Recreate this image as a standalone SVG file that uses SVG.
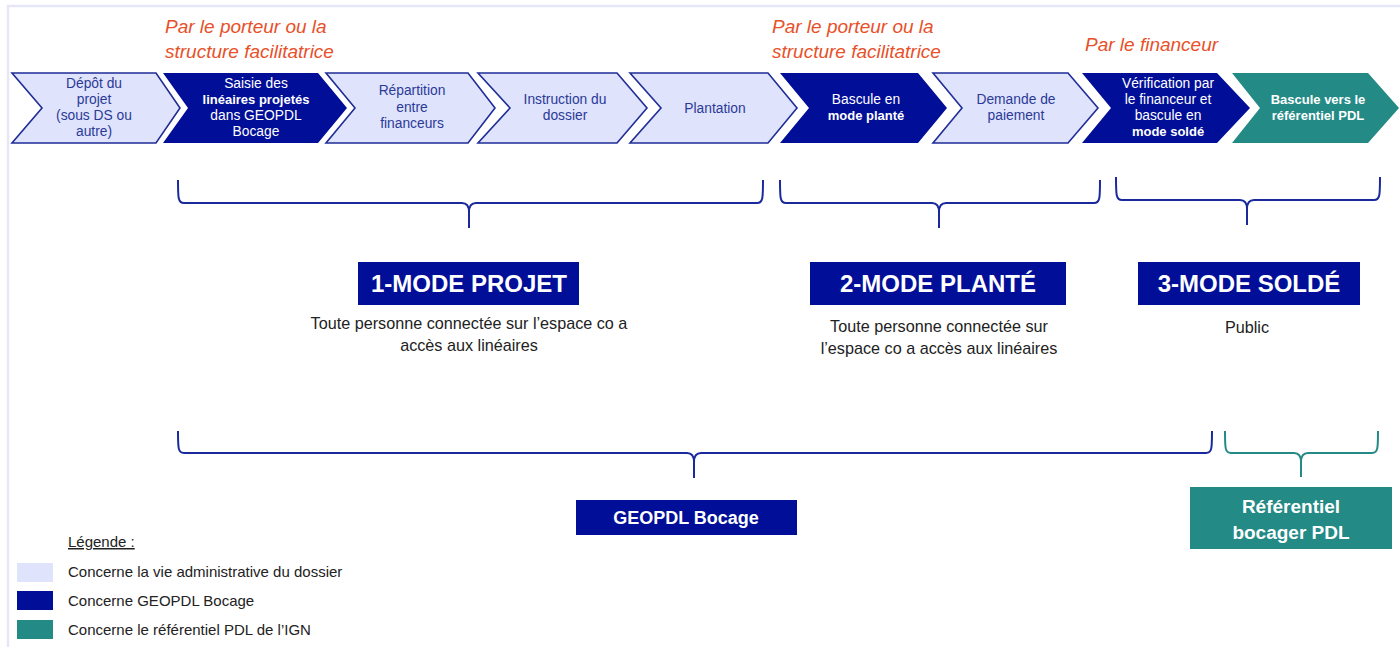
<svg xmlns="http://www.w3.org/2000/svg" width="1400" height="647" viewBox="0 0 1400 647">
<style>
text{font-family:"Liberation Sans",Arial,sans-serif}
.lt{fill:#dfe3fb;stroke:#1f2d96;stroke-width:1.6}
.dk{fill:#000e98}
.tl{fill:#238a86}
.ct{font-size:13.8px;fill:#2b3a98;text-anchor:middle}
.cw{font-size:13.8px;fill:#fff;text-anchor:middle}
.b{font-weight:bold;font-size:13px}
.or{font-size:19px;font-style:italic;fill:#e8502a}
.br{fill:none;stroke:#1a2a9c;stroke-width:2}
.brt{fill:none;stroke:#238a86;stroke-width:2}
.mode{font-size:24px;font-weight:bold;fill:#fff;text-anchor:middle}
.sub{font-size:16.2px;fill:#222;text-anchor:middle}
.lg{font-size:15px;fill:#222}
</style>
<g id="frame"><path d="M8,647 V6 H1400" fill="none" stroke="#e6e6fb" stroke-width="2.5"/></g>

<g id="actors">
<text class="or" x="165" y="33">Par le porteur ou la</text>
<text class="or" x="165" y="58">structure facilitatrice</text>
<text class="or" x="772" y="33">Par le porteur ou la</text>
<text class="or" x="772" y="58">structure facilitatrice</text>
<text class="or" x="1085" y="51">Par le financeur</text>
</g>

<g id="step1"><polygon class="lt" points="12,73 156,73 180,108 156,143 12,143 42,108"/>
<text class="ct"><tspan x="94" y="87.5">Dépôt du</tspan><tspan x="94" y="104">projet</tspan><tspan x="94" y="120">(sous DS ou</tspan><tspan x="94" y="136">autre)</tspan></text></g>
<g id="step2"><polygon class="dk" points="163,73 318,73 347,108 318,143 163,143 188,108"/>
<text class="cw"><tspan x="256" y="87.5">Saisie des</tspan><tspan x="256" y="104" class="b">linéaires projetés</tspan><tspan x="256" y="120">dans GEOPDL</tspan><tspan x="256" y="136">Bocage</tspan></text></g>
<g id="step3"><polygon class="lt" points="326,73 468,73 495,108 468,143 326,143 355,108"/>
<text class="ct"><tspan x="412" y="95">Répartition</tspan><tspan x="412" y="111.5">entre</tspan><tspan x="412" y="128">financeurs</tspan></text></g>
<g id="step4"><polygon class="lt" points="478,73 617,73 647,108 617,143 478,143 510,108"/>
<text class="ct"><tspan x="565" y="104">Instruction du</tspan><tspan x="565" y="120">dossier</tspan></text></g>
<g id="step5"><polygon class="lt" points="630,73 768,73 797,108 768,143 630,143 661,108"/>
<text class="ct" x="715" y="112.5">Plantation</text></g>
<g id="step6"><polygon class="dk" points="780,73 918,73 947,108 918,143 780,143 809,108"/>
<text class="cw"><tspan x="866" y="104">Bascule en</tspan><tspan x="866" y="120" class="b">mode planté</tspan></text></g>
<g id="step7"><polygon class="lt" points="933,73 1068,73 1098,108 1068,143 933,143 962,108"/>
<text class="ct"><tspan x="1016" y="104">Demande de</tspan><tspan x="1016" y="120">paiement</tspan></text></g>
<g id="step8"><polygon class="dk" points="1082,73 1217,73 1250,108 1217,143 1082,143 1111,108"/>
<text class="cw"><tspan x="1168" y="87.5">Vérification par</tspan><tspan x="1168" y="104">le financeur et</tspan><tspan x="1168" y="120">bascule en</tspan><tspan x="1168" y="136" class="b">mode soldé</tspan></text></g>
<g id="step9"><polygon class="tl" points="1232,73 1368,73 1399,108 1368,143 1232,143 1260,108"/>
<text class="cw b"><tspan x="1318" y="104">Bascule vers le</tspan><tspan x="1318" y="120">référentiel PDL</tspan></text></g>

<g id="connectors">
<path class="br" d="M178,180 C178,198 178,203 184,203 L462,203 C467,203 469,206 469,212 L469,228 M469,212 C469,206 471,203 476,203 L757,203 C763,203 763,198 763,180"/>
<path class="br" d="M780,180 C780,198 780,203 786,203 L932,203 C937,203 939,206 939,212 L939,228 M939,212 C939,206 941,203 946,203 L1094,203 C1100,203 1100,198 1100,180"/>
<path class="br" d="M1116,177 C1116,195 1116,200 1122,200 L1240,200 C1245,200 1247,203 1247,209 L1247,225 M1247,209 C1247,203 1249,200 1254,200 L1374,200 C1380,200 1380,195 1380,177"/>
<path class="br" d="M178,431 C178,448 178,453 184,453 L687,453 C692,453 694,456 694,462 L694,478 M694,462 C694,456 696,453 701,453 L1206,453 C1212,453 1212,448 1212,431"/>
<path class="brt" d="M1225,431 C1225,448 1225,453 1231,453 L1294,453 C1299,453 1301,456 1301,462 L1301,477 M1301,462 C1301,456 1303,453 1308,453 L1372,453 C1378,453 1378,448 1378,431"/>
</g>

<g id="mode1"><rect class="dk" x="358" y="262" width="221" height="43"/>
<text class="mode" x="469" y="292">1-MODE PROJET</text>
<text class="sub"><tspan x="469" y="329">Toute personne connectée sur l’espace co a</tspan><tspan x="469" y="351">accès aux linéaires</tspan></text></g>
<g id="mode2"><rect class="dk" x="810" y="262" width="256" height="43"/>
<text class="mode" x="938" y="292">2-MODE PLANTÉ</text>
<text class="sub"><tspan x="939" y="332">Toute personne connectée sur</tspan><tspan x="939" y="354">l’espace co a accès aux linéaires</tspan></text></g>
<g id="mode3"><rect class="dk" x="1138" y="262" width="222" height="43"/>
<text class="mode" x="1249" y="292">3-MODE SOLDÉ</text>
<text class="sub" x="1247" y="333">Public</text></g>

<g id="geopdl"><rect class="dk" x="576" y="500" width="221" height="35"/>
<text x="686" y="524" font-size="18" font-weight="bold" fill="#fff" text-anchor="middle">GEOPDL Bocage</text></g>
<g id="referentiel"><rect class="tl" x="1190" y="487" width="202" height="62"/>
<text font-size="19" font-weight="bold" fill="#fff" text-anchor="middle"><tspan x="1291" y="513">Référentiel</tspan><tspan x="1291" y="539">bocager PDL</tspan></text></g>

<g id="legend">
<text class="lg" x="68" y="547" text-decoration="underline">Légende :</text>
<rect x="17" y="563" width="36" height="19" fill="#dfe3fb"/>
<text class="lg" x="68" y="577">Concerne la vie administrative du dossier</text>
<rect class="dk" x="17" y="591" width="36" height="19"/>
<text class="lg" x="68" y="606">Concerne GEOPDL Bocage</text>
<rect class="tl" x="17" y="620" width="36" height="19"/>
<text class="lg" x="68" y="635">Concerne le référentiel PDL de l’IGN</text>
</g>
</svg>
